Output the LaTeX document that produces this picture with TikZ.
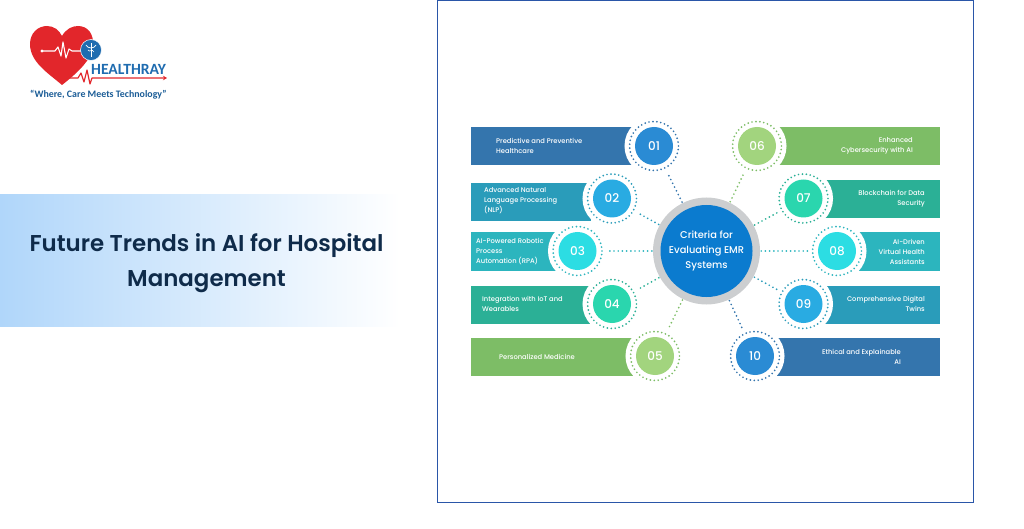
\documentclass[tikz,border=0pt]{standalone}
\usepackage{fontspec}
\setmainfont{Poppins}
\newfontfamily\headfont{Poppins SemiBold}
\newfontfamily\mediumfont{Poppins Medium}
\newfontfamily\logofont{Carlito}
\usepackage{xcolor}
\definecolor{hrblue}{HTML}{3475AD}
\definecolor{hrskin}{HTML}{2A9CBA}
\definecolor{hrteal}{HTML}{2CB5BE}
\definecolor{hrsea}{HTML}{2BB096}
\definecolor{hrgreen}{HTML}{7DBD66}
\definecolor{ballblue}{HTML}{2A8BD4}
\definecolor{ballskin}{HTML}{29ABE2}
\definecolor{ballteal}{HTML}{2CDDE3}
\definecolor{ballsea}{HTML}{2AD6AE}
\definecolor{ballgreen}{HTML}{A2D47E}
\definecolor{hubfill}{HTML}{0B7BCF}
\definecolor{hubring}{HTML}{CCCED0}
\definecolor{framecol}{HTML}{2A56A8}
\definecolor{titlecol}{HTML}{0F2B4A}
\definecolor{bandcol}{HTML}{B0D6FA}
\definecolor{bandmid}{HTML}{D6EEFF}
\definecolor{logored}{HTML}{E2262B}
\definecolor{logoblue}{HTML}{1F6CB0}
\usetikzlibrary{arrows.meta,calc}

\begin{document}
\begin{tikzpicture}[x=1pt,y=-1pt,
  barbox/.style={rectangle,fill=#1,minimum height=38pt,inner sep=0pt,anchor=west},
  barnote/.style={inner sep=0pt,text=white,font=\mediumfont\fontsize{6.75}{10}\selectfont},
  ring/.style={circle,minimum size=49pt,inner sep=0pt,fill=white,draw=#1,line width=1.9pt,
    dash pattern=on 0pt off 3.95pt,line cap=round,
    preaction={draw=white,line width=10pt,solid}},
  ball/.style={circle,minimum size=38pt,inner sep=0pt,fill=#1,text=white,
    font=\mediumfont\fontsize{12}{14}\selectfont},
  link/.style={draw=#1,line width=1.9pt,dash pattern=on 0pt off 4.2pt,line cap=round,
    shorten >=4pt,shorten <=1pt}
]
  \useasboundingbox (0,0) rectangle (1024,529);

  % Title band
  \shade[left color=bandcol,middle color=bandmid,right color=white] (0,195) rectangle (400,326);
  \node[font=\headfont\fontsize{22.9}{34.5}\selectfont,text=titlecol,align=center] (title) at (206.5,263)
    {Future Trends in AI for Hospital\\Management};

  % Logo heart
  \fill[logored] (62,85) .. controls (48,73) and (30,62) .. (30,44)
    .. controls (30,33) and (38,26) .. (47,26)
    .. controls (54,26) and (59,30) .. (62,36)
    .. controls (66,29) and (72,26) .. (78,26)
    .. controls (88,26) and (94,34) .. (93,46)
    .. controls (92,60) and (76,74) .. (62,85) -- cycle;
  \draw[white,line width=1.1pt,line join=round] (42,51) -- (55,51) -- (58,47) -- (61,56) -- (63,42) -- (66,58) -- (69,49) -- (72,51) -- (81,51);
  \fill[white] (42,51) circle (1.6);
  \node[circle,fill=logoblue,draw=white,line width=0.5pt,minimum size=21pt,inner sep=0pt] (medal) at (91,50) {};
  \draw[white,line width=0.9pt] (91,43) -- (91,57);
  \draw[white,line width=0.7pt] (86,45) .. controls (88,49) and (94,49) .. (96,45);
  \draw[white,line width=0.6pt] (88,50) .. controls (90,53) and (92,48) .. (94,52);

  % Logo trace and lettering
  \coordinate (tracestart) at (69,78);
  \coordinate (traceend) at (167,78);
  \draw[logored,line width=1.2pt,line join=round,-{Stealth[length=4pt,width=4.5pt]}] (tracestart) -- (78,78) -- (81,73) -- (84,82) -- (87,70) -- (90,84) -- (92,78) -- (traceend);
  \node[font=\logofont\bfseries\fontsize{15.6}{16}\selectfont,text=logoblue,inner sep=0pt,anchor=west] (brand) at (91,69) {HEALTHRAY};
  \node[font=\logofont\bfseries\fontsize{9.9}{10}\selectfont,text=logoblue!85!black,inner sep=0pt] (motto) at (98.5,95) {“Where, Care Meets Technology”};

  % Panel frame
  \draw[framecol,line width=1pt] (437.5,0.5) rectangle (973.5,502);

  % Left bars
  \node[barbox=hrblue,minimum width=165pt] (b01) at (471,146) {};
  \node[barbox=hrskin,minimum width=120pt] (b02) at (471,202) {};
  \node[barbox=hrteal,minimum width=85pt] (b03) at (471,251.5) {};
  \node[barbox=hrsea,minimum width=120pt] (b04) at (471,304.5) {};
  \node[barbox=hrgreen,minimum width=165pt] (b05) at (471,357) {};

  % Right bars
  \node[barbox=hrgreen,minimum width=165pt] (b06) at (775,146) {};
  \node[barbox=hrsea,minimum width=120pt] (b07) at (820,199) {};
  \node[barbox=hrteal,minimum width=85pt] (b08) at (855,251.5) {};
  \node[barbox=hrskin,minimum width=120pt] (b09) at (820,304.5) {};
  \node[barbox=hrblue,minimum width=165pt] (b10) at (775,357) {};

  % Left rings and balls
  \node[ring=hrblue] (r01) at (654,146) {};
  \node[ball=ballblue] (n01) at (654,146) {01};
  \node[ring=hrskin] (r02) at (612,198.5) {};
  \node[ball=ballskin] (n02) at (612,198.5) {02};
  \node[ring=hrteal] (r03) at (577.5,251) {};
  \node[ball=ballteal] (n03) at (577.5,251) {03};
  \node[ring=hrsea] (r04) at (612,304) {};
  \node[ball=ballsea] (n04) at (612,304) {04};
  \node[ring=hrgreen] (r05) at (655,356) {};
  \node[ball=ballgreen] (n05) at (655,356) {05};

  % Right rings and balls
  \node[ring=hrgreen] (r06) at (757,146) {};
  \node[ball=ballgreen] (n06) at (757,146) {06};
  \node[ring=hrsea] (r07) at (803.5,198.5) {};
  \node[ball=ballsea] (n07) at (803.5,198.5) {07};
  \node[ring=hrteal] (r08) at (837,251) {};
  \node[ball=ballteal] (n08) at (837,251) {08};
  \node[ring=hrskin] (r09) at (803.5,304) {};
  \node[ball=ballskin] (n09) at (803.5,304) {09};
  \node[ring=hrblue] (r10) at (755,356) {};
  \node[ball=ballblue] (n10) at (755,356) {10};

  % Hub
  \node[circle,fill=hubring,minimum size=107pt,inner sep=0pt] (hubout) at (706.5,251) {};
  \node[circle,minimum size=92pt,inner sep=0pt,fill=hubfill,text=white,
    align=center,font=\mediumfont\fontsize{9.85}{15}\selectfont] (hub) at (706.5,251)
    {Criteria for\\Evaluating EMR\\Systems};

  % Connectors
  \draw[link=hrblue] (hubout) -- (r01);
  \draw[link=hrskin] (hubout) -- (r02);
  \draw[link=hrteal] (hubout) -- (r03);
  \draw[link=hrsea] (hubout) -- (r04);
  \draw[link=hrgreen] (hubout) -- (r05);
  \draw[link=hrgreen] (hubout) -- (r06);
  \draw[link=hrsea] (hubout) -- (r07);
  \draw[link=hrteal] (hubout) -- (r08);
  \draw[link=hrskin] (hubout) -- (r09);
  \draw[link=hrblue] (hubout) -- (r10);

  % Bar texts, left
  \node[barnote,align=left,anchor=west] (t01) at (496,146) {Predictive and Preventive\\Healthcare};
  \node[barnote,align=left,anchor=west] (t02) at (484,201) {Advanced Natural\\Language Processing\\(NLP)};
  \node[barnote,align=left,anchor=west] (t03) at (476,252) {AI-Powered Robotic\\Process\\Automation (RPA)};
  \node[barnote,align=left,anchor=west] (t04) at (482,304) {Integration with IoT and\\Wearables};
  \node[barnote,align=center] (t05) at (537,356.5) {Personalized Medicine};

  % Bar texts, right
  \node[barnote,align=right,anchor=east] (t06) at (913,146) {Enhanced\\Cybersecurity with AI};
  \node[barnote,align=right,anchor=east] (t07) at (925,198.5) {Blockchain for Data\\Security};
  \node[barnote,align=right,anchor=east] (t08) at (925,252) {AI-Driven\\Virtual Health\\Assistants};
  \node[barnote,align=right,anchor=east] (t09) at (925,304) {Comprehensive Digital\\Twins};
  \node[barnote,align=right,anchor=east] (t10) at (901,356.5) {Ethical and Explainable\\AI};
\end{tikzpicture}
\end{document}
